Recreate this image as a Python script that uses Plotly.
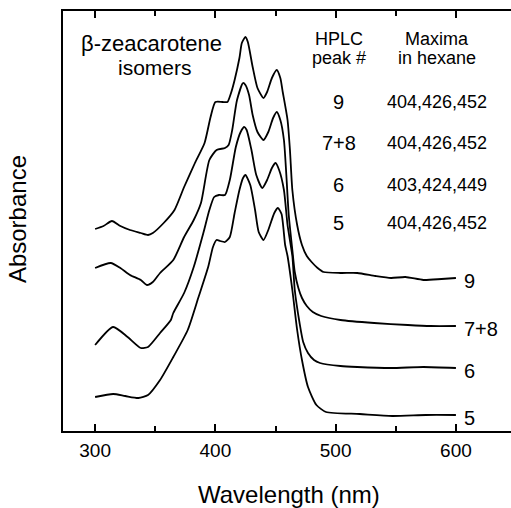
import plotly.graph_objects as go

# ---- data (absorbance in arbitrary, offset units) ----
series_labels = ["9", "7+8", "6", "5"]
maxima_labels = ["404,426,452", "404,426,452", "403,424,449", "404,426,452"]

wl_9 = [300, 307, 314, 321, 329, 338, 344, 348, 357, 366, 374, 383, 391, 396, 400, 406, 410, 413,
        416, 420, 422, 425, 427, 431, 435, 440, 443, 447, 451, 454, 456, 460, 462, 464, 468, 472,
        476, 480, 485, 490, 504, 518, 533, 546, 558, 573, 588, 600]
abs_9 = [2.02, 2.05, 2.10, 2.05, 2.01, 1.98, 1.96, 1.98, 2.08, 2.21, 2.44, 2.68, 2.88, 3.14, 3.29,
         3.29, 3.29, 3.38, 3.51, 3.73, 3.88, 3.94, 3.89, 3.64, 3.43, 3.33, 3.39, 3.53, 3.61, 3.53,
         3.39, 3.11, 2.81, 2.41, 2.06, 1.86, 1.75, 1.69, 1.63, 1.59, 1.58, 1.58, 1.55, 1.53, 1.54,
         1.51, 1.52, 1.53]

wl_78 = [300, 313, 321, 329, 338, 343, 348, 354, 365, 374, 382, 388, 395, 401, 408, 411, 414, 418,
         423, 425, 428, 431, 435, 440, 444, 448, 451, 454, 457, 459, 461, 464, 466, 469, 472, 476,
         481, 488, 504, 532, 560, 579, 600]
abs_78 = [1.63, 1.68, 1.63, 1.56, 1.51, 1.46, 1.49, 1.58, 1.71, 1.94, 2.11, 2.28, 2.71, 2.81, 2.83,
          2.86, 3.01, 3.31, 3.48, 3.46, 3.36, 3.16, 2.99, 2.91, 2.99, 3.13, 3.19, 3.11, 2.91, 2.56,
          2.16, 1.81, 1.59, 1.43, 1.33, 1.25, 1.19, 1.15, 1.11, 1.08, 1.06, 1.05, 1.05]

wl_6 = [300, 315, 327, 338, 344, 354, 363, 365, 374, 382, 390, 395, 399, 403, 408, 412, 417, 421,
        424, 426, 430, 434, 439, 443, 447, 450, 453, 457, 460, 464, 466, 470, 473, 477, 482, 487,
        504, 518, 546, 573, 600]
abs_6 = [0.86, 1.04, 0.94, 0.83, 0.84, 0.98, 1.11, 1.18, 1.38, 1.64, 1.98, 2.21, 2.34, 2.36, 2.36,
         2.51, 2.84, 2.99, 3.04, 3.01, 2.81, 2.56, 2.43, 2.51, 2.63, 2.68, 2.61, 2.41, 2.06, 1.75,
         1.41, 1.08, 0.89, 0.78, 0.71, 0.68, 0.65, 0.64, 0.63, 0.64, 0.63]

wl_5 = [300, 315, 325, 336, 344, 354, 365, 377, 386, 394, 398, 401, 404, 408, 412, 416, 420, 423,
        425, 429, 433, 436, 440, 444, 449, 452, 455, 458, 460, 464, 468, 472, 477, 484, 492, 520,
        547, 575, 600]
abs_5 = [0.34, 0.37, 0.35, 0.33, 0.36, 0.51, 0.74, 1.01, 1.34, 1.64, 1.84, 1.91, 1.90, 1.89, 1.94,
         2.18, 2.41, 2.53, 2.56, 2.46, 2.21, 1.99, 1.91, 2.01, 2.18, 2.23, 2.17, 1.86, 1.75, 1.41,
         1.01, 0.71, 0.44, 0.26, 0.19, 0.17, 0.15, 0.16, 0.16]

x_ticks = [300, 400, 500, 600]

FONT = "Liberation Sans, Arial, Helvetica, sans-serif"

fig = go.Figure()
all_series = [(wl_9, abs_9), (wl_78, abs_78), (wl_6, abs_6), (wl_5, abs_5)]
for (wl, ab), name in zip(all_series, series_labels):
    fig.add_trace(go.Scatter(x=wl, y=ab, mode="lines", name=name,
                             line=dict(color="black", width=1.8, shape="spline", smoothing=0.6),
                             showlegend=False, hoverinfo="skip"))

annotations = []
# right-hand curve labels
for (wl, ab), name in zip(all_series, series_labels):
    annotations.append(dict(x=605, y=ab[-1] - 0.03, xref="x", yref="y", text=name,
                            showarrow=False, xanchor="left", yanchor="middle",
                            font=dict(size=20, color="black", family=FONT)))

# table rows
row_y = [3.29, 2.88, 2.46, 2.08]
for ry, name, mx in zip(row_y, series_labels, maxima_labels):
    annotations.append(dict(x=502.5, y=ry, xref="x", yref="y", text=name, showarrow=False,
                            xanchor="center", yanchor="middle",
                            font=dict(size=20, color="black", family=FONT)))
    annotations.append(dict(x=584, y=ry, xref="x", yref="y", text=mx, showarrow=False,
                            xanchor="center", yanchor="middle",
                            font=dict(size=18, color="black", family=FONT)))

# headers
for txt, xx, yy, size in [("HPLC", 502.5, 3.92, 18), ("peak #", 502.5, 3.73, 18),
                          ("Maxima", 584, 3.92, 18), ("in hexane", 584, 3.73, 18),
                          ("β-zeacarotene", 346.7, 3.88, 22), ("isomers", 350, 3.64, 21)]:
    annotations.append(dict(x=xx, y=yy, xref="x", yref="y", text=txt, showarrow=False,
                            xanchor="center", yanchor="middle",
                            font=dict(size=size, color="black", family=FONT)))

# axis titles
annotations.append(dict(x=0.504, y=-0.152, xref="paper", yref="paper", text="Wavelength (nm)",
                        showarrow=False, xanchor="center", yanchor="middle",
                        font=dict(size=24, color="black", family=FONT)))
annotations.append(dict(x=-0.1, y=0.505, xref="paper", yref="paper", text="Absorbance",
                        showarrow=False, textangle=-90, xanchor="center", yanchor="middle",
                        font=dict(size=24, color="black", family=FONT)))

fig.update_layout(
    width=511, height=508,
    margin=dict(l=63, r=0, t=11, b=77),
    plot_bgcolor="white", paper_bgcolor="white",
    annotations=annotations,
    font=dict(family=FONT, color="black"),
)
fig.update_xaxes(range=[273.3, 645.8], tickvals=x_ticks, ticks="inside", ticklen=7,
                 tickwidth=1.5, tickcolor="black", showline=True, linecolor="black",
                 linewidth=2, mirror="ticks", showgrid=False, zeroline=False,
                 tickfont=dict(size=19, color="black", family=FONT), ticklabelstandoff=1,
                 minor=dict(tickvals=[350, 450, 550], ticks="inside", ticklen=5,
                            tickwidth=1.5, tickcolor="black"))
fig.update_yaxes(range=[0, 4.2], showticklabels=False, ticks="", showline=True,
                 linecolor="black", linewidth=2, mirror=False, showgrid=False, zeroline=False)

fig.write_html("out.html", config={"displayModeBar": False},
               post_script="document.body.style.margin='0';document.body.style.padding='0';")
